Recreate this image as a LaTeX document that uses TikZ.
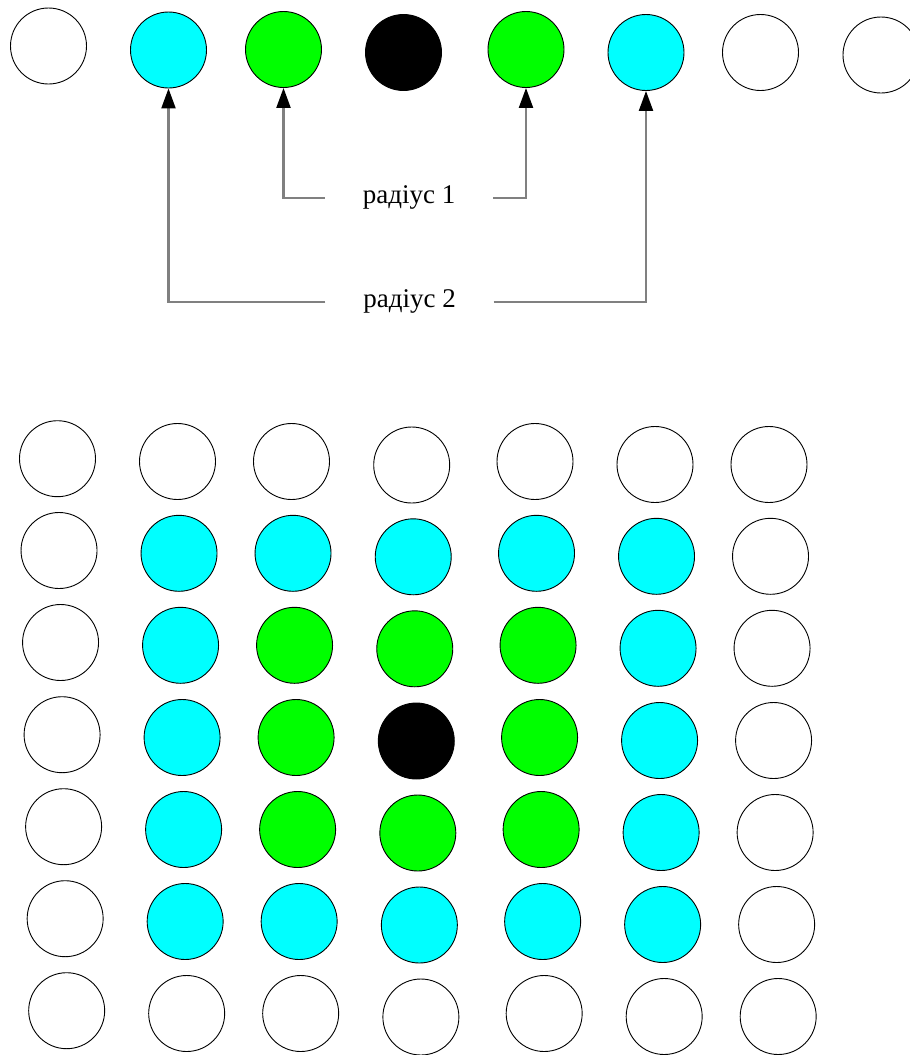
\documentclass[tikz,border=0pt]{standalone}
\usepackage{fontspec}
\setmainfont{Liberation Serif}
\usetikzlibrary{arrows.meta}
\definecolor{ringcyan}{RGB}{0,255,255}
\definecolor{ringgreen}{RGB}{0,255,0}
\tikzset{
  dot/.style={circle, draw=black, line width=0.9pt, minimum size=76pt, inner sep=0pt},
  ringoff/.style={dot, fill=white},
  ringnear/.style={dot, fill=ringgreen},
  ringfar/.style={dot, fill=ringcyan},
  ringcentre/.style={dot, fill=black},
  link/.style={draw=black!50, line width=2.2pt, -{Triangle[length=20pt,width=14pt,color=black]}},
  tag/.style={font=\fontsize{27}{30}\selectfont, inner sep=0pt, minimum width=168pt, minimum height=30pt}
}
\begin{document}
\begin{tikzpicture}[x=1pt,y=-1pt]
\useasboundingbox (0,0) rectangle (910,1055);

% one-dimensional neighbourhood
\node[ringoff]    (t1) at (48.5,46)   {};
\node[ringfar]    (t2) at (168.5,50)  {};
\node[ringnear]   (t3) at (283.5,49.5){};
\node[ringcentre] (t4) at (403.5,52.5){};
\node[ringnear]   (t5) at (526,49.5)  {};
\node[ringfar]    (t6) at (646,52.5)  {};
\node[ringoff]    (t7) at (760.5,52.5){};
\node[ringoff]    (t8) at (881,55)    {};

\node[tag] (r1) at (409,197.7) {радіус 1};
\node[tag] (r2) at (409.5,301.7) {радіус 2};
\draw[link] (r1.west) -| (t3.south);
\draw[link] (r1.east) -| (t5.south);
\draw[link] (r2.west) -| (t2.south);
\draw[link] (r2.east) -| (t6.south);

% two-dimensional neighbourhood, coloured by Chebyshev distance
\foreach \r in {1,...,7}{
  \foreach \c in {1,...,7}{
    \pgfmathsetmacro\colx{{57.5,177.5,291.5,411.7,535,655,769}[\c-1]}
    \pgfmathsetmacro\rowy{{458.7,550.5,642.5,734.7,826.7,918.7,1010.7}[\r-1]}
    \pgfmathsetmacro\dy{{0,2.8,2.8,6.3,2.8,5.8,5.8}[\c-1]}
    \pgfmathsetmacro\gx{\colx+1.53*(\r-1)}
    \pgfmathsetmacro\gy{\rowy+\dy}
    \pgfmathtruncatemacro\d{max(abs(\r-4),abs(\c-4))}
    \ifcase\d \def\kind{ringcentre}\or \def\kind{ringnear}\or \def\kind{ringfar}\else \def\kind{ringoff}\fi
    \node[\kind] (g-\r-\c) at (\gx,\gy) {};
  }
}
\end{tikzpicture}
\end{document}
